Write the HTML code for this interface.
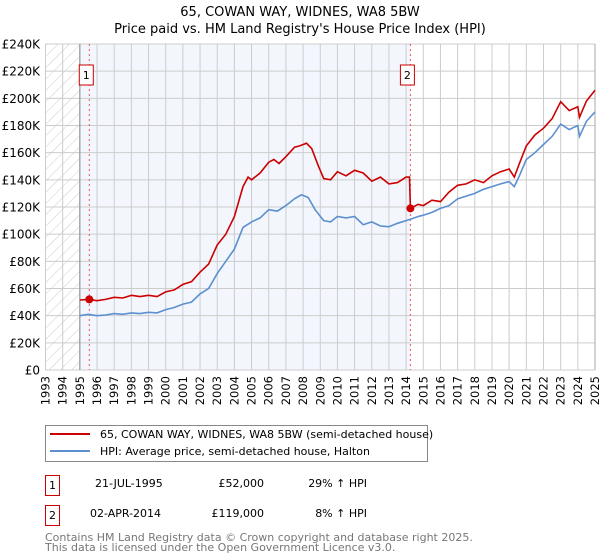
<!DOCTYPE html>
<html><head><meta charset="utf-8"><style>
body{margin:0;background:#fff;}
svg{display:block;font-family:"DejaVu Sans","Liberation Sans",sans-serif;}
</style></head><body>
<svg id="chart" width="600" height="560" viewBox="0 0 600 560">
<defs><pattern id="hatch" width="8" height="8" patternUnits="userSpaceOnUse" patternTransform="rotate(45)"><line x1="0" y1="0" x2="0" y2="8" stroke="#ccc" stroke-width="1"/></pattern></defs>
<text x="300" y="16" text-anchor="middle" font-size="13">65, COWAN WAY, WIDNES, WA8 5BW</text>
<text x="300" y="33" text-anchor="middle" font-size="13">Price paid vs. HM Land Registry's House Price Index (HPI)</text>
<g id="plot"></g>
<g>
<rect x="45.5" y="425.5" width="382" height="36" fill="#fff" stroke="#888"/>
<line x1="50" y1="434" x2="90" y2="434" stroke="#cc0000" stroke-width="2"/>
<text x="100" y="438" font-size="11">65, COWAN WAY, WIDNES, WA8 5BW (semi-detached house)</text>
<line x1="50" y1="451" x2="90" y2="451" stroke="#5b8fd0" stroke-width="2"/>
<text x="100" y="455" font-size="11">HPI: Average price, semi-detached house, Halton</text>
</g>
<g font-size="11">
<rect x="45.5" y="475.5" width="14" height="20" fill="#fff" stroke="#cc0000"/>
<text x="52.5" y="489" text-anchor="middle">1</text>
<text x="95" y="487">21-JUL-1995</text>
<text x="264" y="487" text-anchor="end">£52,000</text>
<text x="367" y="487" text-anchor="end">29% ↑ HPI</text>
<rect x="45.5" y="505.5" width="14" height="20" fill="#fff" stroke="#cc0000"/>
<text x="52.5" y="519" text-anchor="middle">2</text>
<text x="90" y="517">02-APR-2014</text>
<text x="264" y="517" text-anchor="end">£119,000</text>
<text x="367" y="517" text-anchor="end">8% ↑ HPI</text>
</g>
<text x="45" y="541" font-size="11" fill="#777">Contains HM Land Registry data © Crown copyright and database right 2025.</text>
<text x="45" y="551" font-size="11" fill="#777">This data is licensed under the Open Government Licence v3.0.</text>
</svg>
<script>
const yearTicks=[1993,1994,1995,1996,1997,1998,1999,2000,2001,2002,2003,2004,2005,2006,2007,2008,2009,2010,2011,2012,2013,2014,2015,2016,2017,2018,2019,2020,2021,2022,2023,2024,2025];
const valueTicks=[0,20000,40000,60000,80000,100000,120000,140000,160000,180000,200000,220000,240000];
const valueLabels=["£0","£20K","£40K","£60K","£80K","£100K","£120K","£140K","£160K","£180K","£200K","£220K","£240K"];
const hpiYears=[
1995,1995.5,1996,1996.5,1997,1997.5,1998,1998.5,1999,1999.5,
2000,2000.5,2001,2001.5,2002,2002.5,2003,2003.5,2004,2004.5,
2005,2005.5,2006,2006.5,2007,2007.5,2007.9,2008.3,2008.7,2009.2,
2009.6,2010,2010.5,2011,2011.5,2012,2012.5,2013,2013.5,2014,
2014.25,2014.7,2015,2015.5,2016,2016.5,2017,2017.5,2018,2018.5,
2019,2019.5,2020,2020.3,2020.6,2021,2021.5,2022,2022.5,2023,
2023.5,2024,2024.1,2024.5,2025];
const hpiValues=[
40000,41000,40000,40500,41500,41000,42000,41500,42500,42000,
44500,46000,48500,50000,56000,60000,71000,80000,89000,105000,
109000,112000,118000,117000,121000,126000,129000,127000,118000,110000,
109000,113000,112000,113000,107000,109000,106000,105500,108000,110000,
111000,113000,114000,116000,119000,121000,126000,128000,130000,133000,
135000,137000,138700,135000,143000,155000,160000,166000,172000,181000,
177000,180000,172000,183000,190000];
const priceYears=[
1995,1995.55,1996,1996.5,1997,1997.5,1998,1998.5,1999,1999.5,
2000,2000.5,2001,2001.5,2002,2002.5,2003,2003.5,2004,2004.5,
2004.8,2005,2005.5,2006,2006.3,2006.6,2007,2007.5,2007.8,2008.2,
2008.5,2008.9,2009.2,2009.6,2010,2010.5,2011,2011.5,2012,2012.5,
2013,2013.5,2014,2014.2,2014.25,2014.7,2015,2015.5,2016,2016.5,
2017,2017.5,2018,2018.5,2019,2019.5,2020,2020.3,2020.6,2021,
2021.5,2022,2022.5,2023,2023.5,2024,2024.1,2024.5,2025];
const priceValues=[
51500,52000,51000,52000,53500,53000,55000,54000,55000,54000,
57500,59000,63000,65000,72000,78000,92000,100000,113000,135000,
142000,140000,145000,153000,155000,152000,157000,164000,165000,167000,
163000,150000,141000,140000,146000,143000,147000,145000,139000,142000,
137000,138000,142000,142000,119000,122000,121000,125000,124000,131000,
136000,137000,140000,138000,143000,146000,148000,142000,152000,165000,
173000,178000,185000,197500,191000,193800,186000,198000,206000];
const sales=[[1995.55,52000,"1"],[2014.25,119000,"2"]];

const X0=45.5,X1=595,Y0=370,Y1=44;
const xs=y=>X0+(y-1993)/32*(X1-X0);
const ys=v=>Y0-v/240000*(Y0-Y1);
const NS="http://www.w3.org/2000/svg";
const plot=document.getElementById('plot');
function mk(t,a,p){const e=document.createElementNS(NS,t);for(const k in a)e.setAttribute(k,a[k]);(p||plot).appendChild(e);return e;}

let e;
e=mk('rect',{x:xs(1995),y:Y1,width:xs(2014.25)-xs(1995),height:Y0-Y1,fill:'#eef3fc',opacity:0.7});


e=mk('rect',{x:X0,y:Y1,width:xs(1995)-X0,height:Y0-Y1,fill:'url(#hatch)'});


yearTicks.forEach(yr=>{
  const g=mk('line',{x1:xs(yr),x2:xs(yr),y1:Y1,y2:Y0,stroke:'#cccccc','stroke-width':1});
  
  
  const t=mk('text',{transform:`translate(${xs(yr)+4},${Y0+6}) rotate(-90)`,'text-anchor':'end','font-size':11.5});
  t.textContent=yr;
  
  
});
valueTicks.forEach((v,i)=>{
  const g=mk('line',{x1:X0,x2:X1,y1:ys(v),y2:ys(v),stroke:'#cccccc','stroke-width':1});
  
  
  const t=mk('text',{x:40,y:ys(v)+4.5,'text-anchor':'end','font-size':12});
  t.textContent=valueLabels[i];
  
  
});
e=mk('line',{x1:xs(1995),x2:xs(1995),y1:Y1,y2:Y0,stroke:'#888'});


e=mk('line',{x1:X1,x2:X1,y1:Y1,y2:Y0,stroke:'#aaa'});


sales.forEach(s=>{
  const l=mk('line',{x1:xs(s[0]),x2:xs(s[0]),y1:Y1,y2:Y0,stroke:'#ee5555','stroke-dasharray':'2,3'});
  
  
  const b=mk('rect',{x:xs(s[0])-10,y:65,width:14,height:20,fill:'#fff',stroke:'#cc0000'});
  
  
  const t=mk('text',{x:xs(s[0])-3,y:79,'text-anchor':'middle','font-size':11});
  t.textContent=s[2];
  
  
});
const path=(xa,va)=>xa.map((y,i)=>(i?'L':'M')+xs(y).toFixed(1)+','+ys(va[i]).toFixed(1)).join('');
e=mk('path',{d:path(hpiYears,hpiValues),fill:'none',stroke:'#5b8fd0','stroke-width':1.6});


e=mk('path',{d:path(priceYears,priceValues),fill:'none',stroke:'#cc0000','stroke-width':1.6});


sales.forEach(s=>{
  const c=mk('circle',{cx:xs(s[0]),cy:ys(s[1]),r:4,fill:'#cc0000'});
  
  
});
</script>
</body></html>
